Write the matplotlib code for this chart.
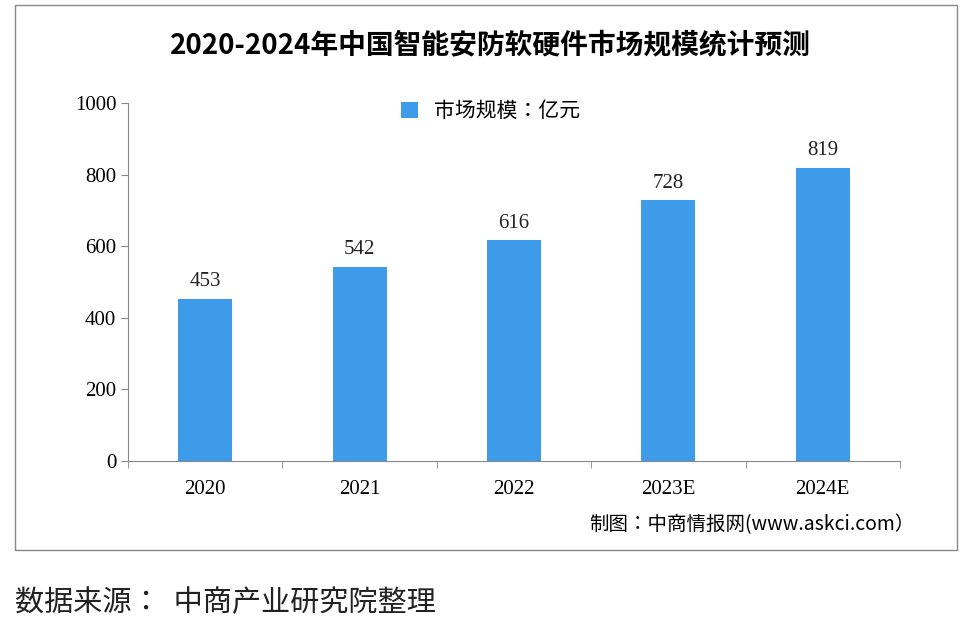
import matplotlib.pyplot as plt
from matplotlib.patches import Rectangle
import numpy as np

plt.rcParams['font.family'] = ['Noto Sans CJK JP', 'Noto Sans CJK SC',
                               'Noto Sans CJK TC', 'Noto Sans CJK KR', 'DejaVu Sans']

# Data
years = ['2020', '2021', '2022', '2023E', '2024E']
market_size = [453, 542, 616, 728, 819]
yticks = [0, 200, 400, 600, 800, 1000]

fig = plt.figure(figsize=[9.77, 6.27], dpi=100)
fig.patches.append(Rectangle((15 / 977, (627 - 550) / 627), 942 / 977, 545 / 627,
                             transform=fig.transFigure, fill=False,
                             edgecolor='#888888', lw=1))
ax = fig.add_axes([128 / 977, (627 - 461) / 627, 772 / 977, 358 / 627])

x = np.arange(len(years))
bars = ax.bar(x, market_size, width=0.35, color='#3d9be9', label='市场规模：亿元')
for xi, v in zip(x, market_size):
    ax.text(xi, v + 22, str(v), ha='center', va='bottom', fontsize=15,
            family='Liberation Serif', color='#222222')

ax.set_xlim(-0.5, len(years) - 0.5)
ax.set_ylim(0, 1000)
ax.set_yticks(yticks)
ax.set_yticklabels([str(t) for t in yticks], family='Liberation Serif', fontsize=15)
ax.set_xticks(x)
ax.set_xticklabels(years, family='Liberation Serif', fontsize=15)
ax.set_xticks(np.arange(-0.5, len(years)), minor=True)
ax.tick_params(axis='x', which='major', length=0, pad=14)
ax.tick_params(axis='x', which='minor', length=5, color='#888888')
ax.tick_params(axis='y', length=5, color='#888888')
for s in ['top', 'right']:
    ax.spines[s].set_visible(False)
for s in ['left', 'bottom']:
    ax.spines[s].set_color('#888888')

ax.legend(loc='upper center', bbox_to_anchor=(0.47, 1.06), frameon=False,
          fontsize=15, handlelength=0.8, handleheight=0.8)

fig.text(490 / 977, 1 - 45 / 627, '2020-2024年中国智能安防软硬件市场规模统计预测',
         ha='center', va='center', fontsize=20, fontweight='bold')
fig.text(915 / 977, 1 - 525 / 627, '制图：中商情报网(www.askci.com）',
         ha='right', va='center', fontsize=14)
fig.text(15 / 977, 1 - 603 / 627, '数据来源：  中商产业研究院整理',
         ha='left', va='center', fontsize=21, color='#222222')

plt.savefig('out.png', dpi=100)
